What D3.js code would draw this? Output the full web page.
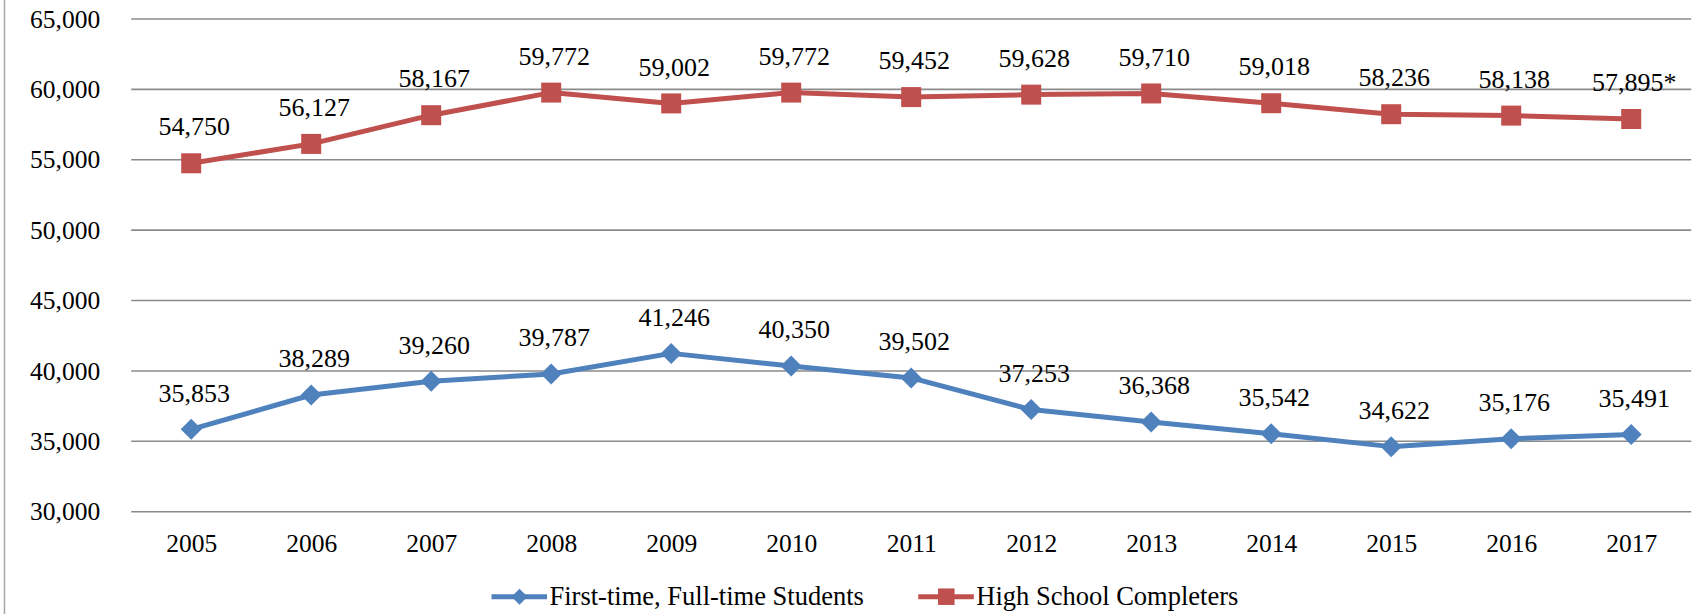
<!DOCTYPE html>
<html>
<head>
<meta charset="utf-8">
<script src="https://cdn.jsdelivr.net/npm/d3@7"></script>
<style>
  body { margin: 0; background: #fff; }
  text { font-family: "Liberation Serif", "Times New Roman", serif; fill: #000; }
</style>
</head>
<body>
<div id="chart"></div>
<script>
// Data
var years = ["2005", "2006", "2007", "2008", "2009", "2010", "2011", "2012", "2013", "2014", "2015", "2016", "2017"];
var firstTime = [35853, 38289, 39260, 39787, 41246, 40350, 39502, 37253, 36368, 35542, 34622, 35176, 35491];
var hsCompleters = [54750, 56127, 58167, 59772, 59002, 59772, 59452, 59628, 59710, 59018, 58236, 58138, 57895];
var hsLabels = ["54,750", "56,127", "58,167", "59,772", "59,002", "59,772", "59,452", "59,628", "59,710", "59,018", "58,236", "58,138", "57,895*"];
var yTicks = [30000, 35000, 40000, 45000, 50000, 55000, 60000, 65000];
var seriesNames = ["First-time, Full-time Students", "High School Completers"];

// Define workspace area
var svgWidth = 1696;
var svgHeight = 614;

var margin = {
  top: 19,
  right: 4.8,
  bottom: 102.3,
  left: 131.2
};

var width = svgWidth - margin.left - margin.right;
var height = svgHeight - margin.top - margin.bottom;

var blue = "#4F81BD";
var red = "#C0504D";

var svg = d3.select("#chart")
  .append("svg")
  .attr("width", svgWidth)
  .attr("height", svgHeight);

// left border of the chart area
svg.append("line")
  .attr("x1", 4.5).attr("x2", 4.5)
  .attr("y1", 0).attr("y2", svgHeight)
  .attr("stroke", "#a6a6a6")
  .attr("stroke-width", 1.5);

var chartGroup = svg.append("g")
  .attr("transform", `translate(${margin.left}, ${margin.top})`);

// scales
var xScale = d3.scalePoint()
  .domain(years)
  .range([0, width])
  .padding(0.5);

var yScale = d3.scaleLinear()
  .domain([30000, 65000])
  .range([height, 0]);

// gridlines
chartGroup.selectAll("line.grid")
  .data(yTicks)
  .enter()
  .append("line")
  .attr("class", "grid")
  .attr("x1", 0)
  .attr("x2", width)
  .attr("y1", d => yScale(d))
  .attr("y2", d => yScale(d))
  .attr("stroke", "#8a8a8a")
  .attr("stroke-width", 1.6);

// y axis labels
var yAxis = d3.axisLeft(yScale)
  .tickValues(yTicks)
  .tickFormat(d3.format(","))
  .tickSize(0)
  .tickPadding(31);

chartGroup.append("g")
  .call(yAxis)
  .call(g => g.select(".domain").remove())
  .selectAll("text")
  .style("font-size", "25.5px")
  .style("font-family", "Liberation Serif");

// x axis labels
var xAxis = d3.axisBottom(xScale)
  .tickSize(0)
  .tickPadding(22);

chartGroup.append("g")
  .attr("transform", `translate(0, ${height})`)
  .call(xAxis)
  .call(g => g.select(".domain").remove())
  .selectAll("text")
  .style("font-size", "25.5px")
  .style("font-family", "Liberation Serif");

var line = d3.line()
  .x((d, i) => xScale(years[i]))
  .y(d => yScale(d));

// draw a series
function drawSeries(values, labels, color, shape) {
  chartGroup.append("path")
    .datum(values)
    .attr("fill", "none")
    .attr("stroke", color)
    .attr("stroke-width", 5)
    .attr("stroke-linejoin", "round")
    .attr("d", line);

  chartGroup.selectAll(null)
    .data(values)
    .enter()
    .append("path")
    .attr("transform", (d, i) => `translate(${xScale(years[i])}, ${yScale(d)})`)
    .attr("d", shape)
    .attr("fill", color);

  chartGroup.selectAll(null)
    .data(values)
    .enter()
    .append("text")
    .attr("x", (d, i) => xScale(years[i]) + 3)
    .attr("y", d => yScale(d) - 27.8)
    .attr("text-anchor", "middle")
    .style("font-size", "26px")
    .text((d, i) => labels[i]);
}

var square = d3.symbol().type(d3.symbolSquare).size(400)();
var diamond = "M0,-10.5L10.5,0L0,10.5L-10.5,0Z";

drawSeries(firstTime, firstTime.map(d3.format(",")), blue, diamond);
drawSeries(hsCompleters, hsLabels, red, square);

// legend
var legendItems = [
  { name: seriesNames[0], color: blue, shape: "M0,-8L8,0L0,8L-8,0Z", x: 491.5 },
  { name: seriesNames[1], color: red, shape: d3.symbol().type(d3.symbolSquare).size(272)(), x: 918.3 }
];

var legend = svg.selectAll("g.legend")
  .data(legendItems)
  .enter()
  .append("g")
  .attr("class", "legend")
  .attr("transform", d => `translate(${d.x}, 596.7)`);

legend.append("line")
  .attr("x1", 0).attr("x2", 55.5)
  .attr("y1", 0).attr("y2", 0)
  .attr("stroke", d => d.color)
  .attr("stroke-width", 5);

legend.append("path")
  .attr("transform", "translate(28, 0)")
  .attr("d", d => d.shape)
  .attr("fill", d => d.color);

legend.append("text")
  .attr("x", 58)
  .attr("y", 8.5)
  .style("font-size", "26.5px")
  .text(d => d.name);
</script>
</body>
</html>
